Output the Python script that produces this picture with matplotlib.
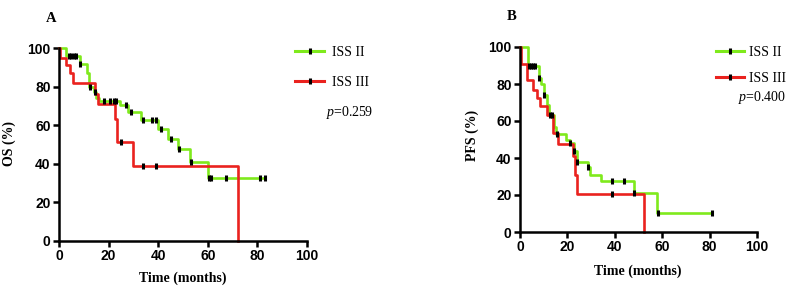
import numpy as np
import matplotlib
matplotlib.use("Agg")
import matplotlib.pyplot as plt
from matplotlib.lines import Line2D

# ---- data ----
# A: overall survival
os2_t = [0, 3, 8.4, 11.3, 12, 14, 15, 16, 24.5, 28, 33, 40, 44, 48, 53, 60, 83]
os2_s = [100, 96, 91.5, 87, 80, 77, 74, 72.5, 70.5, 67, 62.5, 58, 53, 47.5, 41, 32.5, 32.5]
os2_cens = [4, 5, 6, 7, 8.6, 12.3, 14.5, 18, 20.5, 22, 23, 27, 29, 34, 37.5, 39, 41, 45, 48.5, 53.2, 60.5, 61.3, 67.5, 81, 83]

os3_t = [0, 0.5, 3, 4.3, 5.5, 14.4, 15.8, 22.5, 23.2, 30, 72]
os3_s = [100, 95, 91, 87, 82, 76, 71, 63, 51.5, 39, 0]
os3_cens = [25, 34, 39]

# B: progression-free survival
pfs2_t = [0, 3.2, 8.1, 9, 10, 11.2, 12.2, 14.3, 15.4, 19.2, 21, 22.8, 24, 28.8, 29.5, 34, 48.2, 58, 81]
pfs2_s = [100, 90, 83, 80, 74, 68.5, 63, 57, 53, 50, 48, 44, 38, 35, 31, 27.5, 21, 10.5, 10.5]
pfs2_cens = [3.6, 4.5, 5.5, 6.5, 8.2, 10.1, 12.5, 13.3, 15.5, 21.2, 22.9, 24.2, 28.9, 39, 44, 48.3, 58.1, 81]

pfs3_t = [0, 0.3, 2.8, 5.6, 7, 8.4, 11.2, 14, 16, 22.2, 23.2, 24, 52.4]
pfs3_s = [100, 91, 82, 77, 72.5, 68, 63, 53.5, 47.5, 41, 31, 20.5, 0]
pfs3_cens = [39]

groups = ["ISS II", "ISS III"]
pvals = ["0.259", "0.400"]

GREEN = "#7fea1c"
RED = "#ea221e"

plt.rcParams["font.family"] = ["Liberation Sans", "DejaVu Sans"]
plt.rcParams["mathtext.fontset"] = "custom"
plt.rcParams["mathtext.it"] = "Liberation Serif:italic"
plt.rcParams["mathtext.rm"] = "Liberation Serif"

fig = plt.figure(figsize=(7.89, 2.86), dpi=100)
W, H = 789, 286
SERIF = "Liberation Serif"


def px_axes(l, t, r, b):
    return fig.add_axes([l / W, 1 - b / H, (r - l) / W, (b - t) / H])


def km(ax, t, s, cens, color):
    t = np.asarray(t, float)
    s = np.asarray(s, float)
    ax.step(t, s, where="post", color=color, lw=1.9, zorder=2, clip_on=False)
    c = np.asarray(cens, float)
    if len(c):
        cv = s[np.searchsorted(t, c, side="right") - 1]
        ax.plot(c, cv, ls="none", marker="|", ms=4.5, mew=2.2, color="black",
                zorder=3, clip_on=False)


def style(ax):
    ax.set_xlim(0, 100)
    ax.set_ylim(0, 100)
    ax.set_xticks(np.arange(0, 101, 20))
    ax.set_yticks(np.arange(0, 101, 20))
    for side in ["top", "right"]:
        ax.spines[side].set_visible(False)
    for side in ["left", "bottom"]:
        ax.spines[side].set_linewidth(1.8)
    ax.tick_params(direction="out", length=4, width=1.8, labelsize=10, pad=2)
    for lab in ax.get_xticklabels() + ax.get_yticklabels():
        lab.set_fontweight("bold")


axA = px_axes(59, 48, 307, 241)
km(axA, os2_t, os2_s, os2_cens, GREEN)
km(axA, os3_t, os3_s, os3_cens, RED)
style(axA)

axB = px_axes(520, 47, 757, 232)
km(axB, pfs2_t, pfs2_s, pfs2_cens, GREEN)
km(axB, pfs3_t, pfs3_s, pfs3_cens, RED)
style(axB)

lab_kw = dict(family=SERIF, fontweight="bold", fontsize=10, ha="center", va="center")
fig.text(9 / W, 1 - 144 / H, "OS (%)", rotation=90, **lab_kw)
fig.text(472 / W, 1 - 135 / H, "PFS (%)", rotation=90, **lab_kw)
fig.text(183 / W, 1 - 278.5 / H, "Time (months)", **lab_kw)
fig.text(638 / W, 1 - 271 / H, "Time (months)", **lab_kw)

handles = [
    Line2D([0], [0], color=GREEN, lw=2.2, marker="|", mec="black", mfc="black", ms=4.5, mew=2.2),
    Line2D([0], [0], color=RED, lw=2.2, marker="|", mec="black", mfc="black", ms=4.5, mew=2.2),
]
leg_font = {"family": SERIF, "size": 10}

fig.legend(handles, groups, loc="upper left", bbox_to_anchor=(295 / W, 1 - 46 / H),
           frameon=False, prop=leg_font, handlelength=2.1, handletextpad=0.6,
           labelspacing=1.2, borderaxespad=0, borderpad=0)
fig.legend(handles, groups, loc="upper left", bbox_to_anchor=(716 / W, 1 - 46 / H),
           frameon=False, prop=leg_font, handlelength=2.0, handletextpad=0.4,
           labelspacing=0.95, borderaxespad=0, borderpad=0)

fig.text(326 / W, 1 - 112 / H, r"$p$=" + pvals[0], family=SERIF,
         fontsize=10, va="center", ha="left")
fig.text(738 / W, 1 - 97 / H, r"$p$=" + pvals[1], family=SERIF,
         fontsize=10, va="center", ha="left")

fig.text(46 / W, 1 - 18 / H, "A", family=SERIF, fontweight="bold",
         fontsize=10.5, va="center", ha="left")
fig.text(507 / W, 1 - 17 / H, "B", family=SERIF, fontweight="bold",
         fontsize=10.5, va="center", ha="left")

fig.savefig("out.png", dpi=100)
